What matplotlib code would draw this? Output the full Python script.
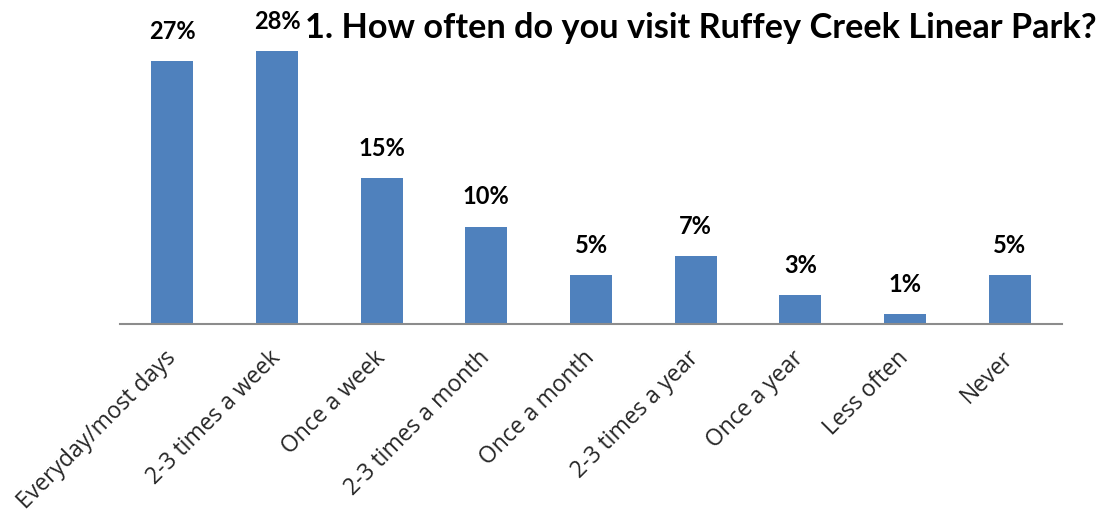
import matplotlib
matplotlib.use("Agg")
import matplotlib.pyplot as plt

categories = ["Everyday/most days", "2-3 times a week", "Once a week",
              "2-3 times a month", "Once a month", "2-3 times a year",
              "Once a year", "Less often", "Never"]
percentages = [27, 28, 15, 10, 5, 7, 3, 1, 5]
title = "1. How often do you visit Ruffey Creek Linear Park?"

W, H, DPI = 1103, 513, 100
fig = plt.figure(figsize=(W / DPI, H / DPI), dpi=DPI)
ax = fig.add_axes([120 / W, 1 - 324 / H, (1062 - 120) / W, 292.5 / H])

x = range(len(categories))
bars = ax.bar(x, percentages, width=0.4, color="#4F81BD")

ax.set_xlim(-0.5, len(categories) - 0.5)
ax.set_ylim(0, 30)

for rect, v in zip(bars, percentages):
    ax.annotate(f"{v}%", (rect.get_x() + rect.get_width() / 2, v),
                xytext=(0, 16), textcoords="offset points",
                ha="center", va="baseline", fontsize=17, fontweight="bold",
                family="Lato", color="black")

for side in ("top", "right", "left"):
    ax.spines[side].set_visible(False)
ax.spines["bottom"].set_color("#8C8C8C")
ax.spines["bottom"].set_linewidth(1.5)
ax.set_yticks([])
ax.set_xticks(list(x))
ax.set_xticklabels(categories, rotation=45, ha="right", va="center",
                   rotation_mode="anchor", fontsize=16.5, family="Open Sans",
                   fontweight="normal", color="#262626")
ax.tick_params(axis="x", length=0, pad=22)

fig.text(1097 / W, 1 - 38 / H, title, ha="right", va="baseline",
         fontsize=24.7, fontweight="bold", family="Lato", color="black")

fig.savefig("out.png", dpi=DPI)
